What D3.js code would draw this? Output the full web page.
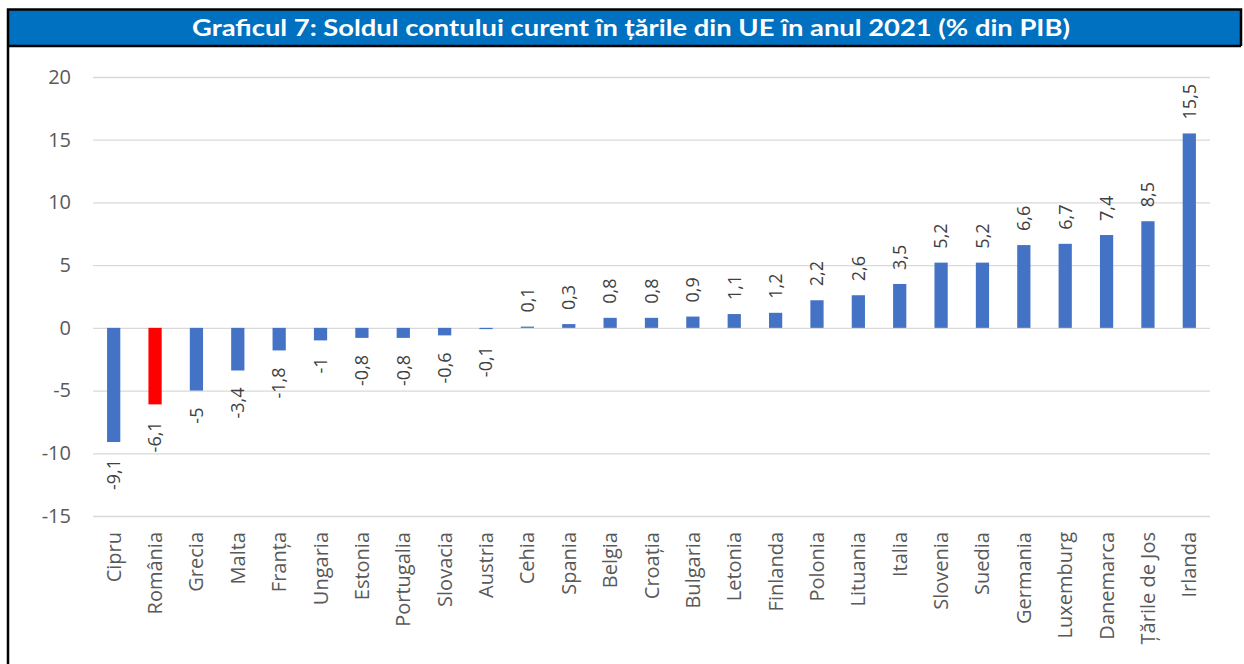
<!DOCTYPE html>
<meta charset="utf-8">
<script src="https://d3js.org/d3.v7.min.js"></script>
<style>
  body { margin: 0; background: #fff; font-family: "Open Sans", "Noto Sans", sans-serif; }
</style>
<div id="chart"></div>
<script>
// data
var countries = ["Cipru","România","Grecia","Malta","Franța","Ungaria","Estonia","Portugalia","Slovacia","Austria",
  "Cehia","Spania","Belgia","Croația","Bulgaria","Letonia","Finlanda","Polonia","Lituania","Italia",
  "Slovenia","Suedia","Germania","Luxemburg","Danemarca","Țările de Jos","Irlanda"]
var balance = [-9.1,-6.1,-5,-3.4,-1.8,-1,-0.8,-0.8,-0.6,-0.1,
  0.1,0.3,0.8,0.8,0.9,1.1,1.2,2.2,2.6,3.5,
  5.2,5.2,6.6,6.7,7.4,8.5,15.5]
var yTicks = [-15,-10,-5,0,5,10,15,20]
var highlight = "România"

var width = 1244, height = 664

var svg = d3.select("#chart").append("svg")
  .attr("width", width)
  .attr("height", height)

// frame + title bar
svg.append("rect")
  .attr("x", 8).attr("y", 10)
  .attr("width", 1233).attr("height", 36)
  .attr("fill", "#0070C0")
svg.append("path")
  .attr("d", "M8,664 V9.5 H1241 V46 M8,46 H1241")
  .attr("fill", "none")
  .attr("stroke", "#000")
  .attr("stroke-width", 2.5)

svg.append("text")
  .attr("x", 631).attr("y", 36)
  .attr("text-anchor", "middle")
  .attr("fill", "#fff")
  .style("font-family", "Lato, 'Open Sans', sans-serif")
  .style("font-size", "23px")
  .style("font-weight", "bold")
  .attr("textLength", 878)
  .attr("lengthAdjust", "spacingAndGlyphs")
  .text("Graficul 7: Soldul contului curent în țările din UE în anul 2021 (% din PIB)")

var x = d3.scaleBand()
  .domain(countries)
  .range([93, 1210])
  .paddingInner(0.68)
  .paddingOuter(0.34)

var y = d3.scaleLinear()
  .domain([-15, 20])
  .range([516, 77])

var fmt = function(v) { return String(v).replace(".", ",") }

// gridlines + y labels
var yAxis = svg.append("g")
  .attr("transform", "translate(93,0)")
  .call(d3.axisLeft(y).tickValues(yTicks).tickSize(-(1210 - 93)).tickPadding(22).tickFormat(fmt))
yAxis.select(".domain").remove()
yAxis.selectAll("line").attr("stroke", "#D9D9D9").attr("stroke-width", 1.3)
yAxis.selectAll("text")
  .attr("fill", "#595959")
  .style("font-size", "20px")
  .style("font-family", "'Open Sans', sans-serif")

// bars
var rows = countries.map(function(c, i) { return {name: c, v: balance[i]} })

svg.append("g").selectAll("rect")
  .data(rows)
  .enter().append("rect")
  .attr("x", function(d) { return x(d.name) })
  .attr("width", x.bandwidth())
  .attr("y", function(d) { return y(Math.max(0, d.v)) })
  .attr("height", function(d) { return Math.abs(y(d.v) - y(0)) })
  .attr("fill", function(d) { return d.name === highlight ? "#FF0000" : "#4472C4" })

// value labels, rotated
svg.append("g").selectAll("text")
  .data(rows)
  .enter().append("text")
  .attr("transform", function(d) {
    var cx = x(d.name) + x.bandwidth() / 2
    var py = d.v >= 0 ? y(d.v) - 14 : y(d.v) + 17
    return "translate(" + cx + "," + py + ") rotate(-90)"
  })
  .attr("dy", "0.35em")
  .attr("text-anchor", function(d) { return d.v >= 0 ? "start" : "end" })
  .attr("fill", "#404040")
  .style("font-size", "18px")
  .text(function(d) { return fmt(d.v) })

// category labels
svg.append("g").selectAll("text")
  .data(countries)
  .enter().append("text")
  .attr("transform", function(d) {
    return "translate(" + (x(d) + x.bandwidth() / 2) + ",532) rotate(-90)"
  })
  .attr("dy", "0.35em")
  .attr("text-anchor", "end")
  .attr("fill", "#595959")
  .style("font-size", "20px")
  .text(function(d) { return d })
</script>
